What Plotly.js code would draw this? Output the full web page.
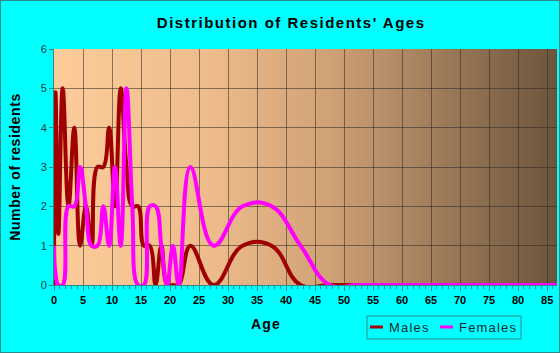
<!DOCTYPE html>
<html>
<head>
<meta charset="utf-8">
<script src="https://cdn.plot.ly/plotly-3.0.1.min.js"></script>
<style>
  html, body { margin: 0; padding: 0; background: #00FFFF; }
  #wrap { position: relative; width: 560px; height: 353px; }
  #chart { width: 560px; height: 353px; }
  #frame { position: absolute; left: 0; top: 0; width: 560px; height: 353px; box-sizing: border-box; border: 1px solid #2E8B8B; pointer-events: none; }
  .gtitle { letter-spacing: 1.5px; }
  .ytitle { letter-spacing: 0.6px; }
  .annotation-text { letter-spacing: 1.2px; }
</style>
</head>
<body>
<div id="wrap"><div id="chart"></div><div id="frame"></div></div>
<script>
// Age positions (single years at mid-year, census groups at group midpoints)
const ages = [0, 0.25, 0.75, 1.5, 2.5, 3.5, 4.5, 5.5, 6.5, 7.5, 8.5, 9.5, 10.5, 11.5, 12.5, 13.5, 14.5, 15.5, 16.5, 17.5, 18.5, 19.5, 20.5, 21.5, 23.5, 27.5, 32.5, 37.5, 42.5, 47.5, 52.5, 57.5, 61, 63.5, 66, 68.5, 72.5, 77.5, 82.5, 87.5];
const males   = [0, 4.9, 1.3, 5, 2, 4, 1, 2, 1, 3, 3, 4, 2, 5, 3, 2, 2, 1, 1, 0, 1, 0, 0, 0, 1, 0, 1, 1, 0, 0, 0, 0, 0, 0, 0, 0, 0, 0, 0, 0];
const females = [1, 0.3, 0, 0, 2, 2, 3, 2, 1, 1, 2, 1, 3, 1, 5, 2, 0, 0, 2, 2, 1, 0, 1, 0, 3, 1, 2, 2, 1, 0, 0, 0, 0, 0, 0, 0, 0, 0, 0, 0];
const xTicks = [0, 5, 10, 15, 20, 25, 30, 35, 40, 45, 50, 55, 60, 65, 70, 75, 80, 85];
const seriesNames = ['Males', 'Females'];
const seriesColors = ['#A00000', '#FF00FF'];

// gradient background image for the plot area
function gradientImage() {
  const c = document.createElement('canvas');
  c.width = 503; c.height = 236;
  const g = c.getContext('2d');
  const gr = g.createLinearGradient(0, 0, 503, 0);
  gr.addColorStop(0, '#FDCC9A');
  gr.addColorStop(0.3, '#EFBD8D');
  gr.addColorStop(0.55, '#CFA176');
  gr.addColorStop(0.8, '#977656');
  gr.addColorStop(1, '#6C543C');
  g.fillStyle = gr;
  g.fillRect(0, 0, 503, 236);
  return c.toDataURL('image/png');
}

const font = 'Arial, "Liberation Sans", sans-serif';

const traces = [
  { x: ages, y: males, name: seriesNames[0], type: 'scatter', mode: 'lines',
    line: { color: seriesColors[0], width: 4, shape: 'spline', smoothing: 1.2 } },
  { x: ages, y: females, name: seriesNames[1], type: 'scatter', mode: 'lines',
    line: { color: seriesColors[1], width: 4, shape: 'spline', smoothing: 1.2 } }
];

// custom legend (paper coords relative to plot area 54..557 x, 49..285 y)
const px = v => (v - 54) / 503;
const py = v => (285 - v) / 236;
const legendShapes = [
  { type: 'rect', xref: 'paper', yref: 'paper', x0: px(367), x1: px(521), y0: py(316), y1: py(339),
    line: { color: '#2E8B8B', width: 1 }, fillcolor: 'rgba(0,0,0,0)' },
  { type: 'line', xref: 'paper', yref: 'paper', x0: px(370), x1: px(383), y0: py(327), y1: py(327),
    line: { color: seriesColors[0], width: 3 } },
  { type: 'line', xref: 'paper', yref: 'paper', x0: px(440), x1: px(453), y0: py(327), y1: py(327),
    line: { color: seriesColors[1], width: 3 } }
];

const layout = {
  width: 560, height: 353,
  paper_bgcolor: '#00FFFF',
  plot_bgcolor: 'rgba(0,0,0,0)',
  margin: { l: 54, r: 3, t: 49, b: 68 },
  font: { family: font, color: '#000' },
  title: { text: "<b>Distribution of Residents' Ages</b>", x: 0.52, xref: 'container', xanchor: 'center', y: 0.935, yanchor: 'middle',
           font: { family: font, size: 15, color: '#000' } },
  xaxis: {
    range: [0, 86.7], tickvals: xTicks, ticktext: xTicks.map(String),
    showgrid: true, gridcolor: 'rgba(45,40,35,0.55)', gridwidth: 1,
    zeroline: false, showline: true, linecolor: '#2E8B8B', linewidth: 1,
    ticks: 'outside', ticklen: 5, tickcolor: '#2E8B8B',
    minor: { dtick: 1, tick0: 0, ticks: 'outside', ticklen: 3, tickcolor: '#2E8B8B', showgrid: false },
    tickfont: { family: font, size: 11, color: '#000', weight: 'bold' }
  },
  yaxis: {
    range: [0, 6], dtick: 1, tick0: 0,
    showgrid: true, gridcolor: 'rgba(45,40,35,0.55)', gridwidth: 1,
    zeroline: false, showline: true, linecolor: '#2E8B8B', linewidth: 1,
    ticks: 'outside', ticklen: 4, tickcolor: '#2E8B8B',
    tickfont: { family: font, size: 11, color: '#1a3a3a' },
    title: { text: '<b>Number of residents</b>', font: { family: font, size: 14, color: '#000' }, standoff: 16 }
  },
  showlegend: false,
  shapes: legendShapes,
  annotations: [
    { text: '<b>Age</b>', xref: 'paper', yref: 'paper', x: px(266), y: py(324), xanchor: 'center', yanchor: 'middle',
      showarrow: false, font: { family: font, size: 14, color: '#000' } },
    { text: seriesNames[0], xref: 'paper', yref: 'paper', x: px(387), y: py(327.5), xanchor: 'left', yanchor: 'middle',
      showarrow: false, font: { family: font, size: 13, color: '#1a2a2a' } },
    { text: seriesNames[1], xref: 'paper', yref: 'paper', x: px(457), y: py(327.5), xanchor: 'left', yanchor: 'middle',
      showarrow: false, font: { family: font, size: 13, color: '#1a2a2a' } }
  ],
  images: [
    { source: gradientImage(), xref: 'paper', yref: 'paper', x: 0, y: 1, sizex: 1, sizey: 1,
      xanchor: 'left', yanchor: 'top', sizing: 'stretch', layer: 'below' }
  ]
};

Plotly.newPlot('chart', traces, layout, { displayModeBar: false, staticPlot: true });
</script>
</body>
</html>
